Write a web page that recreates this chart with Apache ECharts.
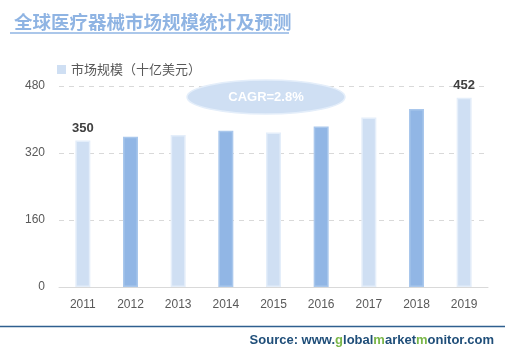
<!DOCTYPE html>
<html><head><meta charset="utf-8">
<script src="https://cdn.jsdelivr.net/npm/echarts@6/dist/echarts.min.js"></script>
<style>html,body{margin:0;padding:0;background:#fff}#c{width:518px;height:356px}</style>
</head><body><div id="c"></div>
<script>
const categories = ['2011','2012','2013','2014','2015','2016','2017','2018','2019'];
const values = [350, 359, 363, 373, 369, 383, 405, 425, 452];
const yTicks = [0, 160, 320, 480];
const seriesName = '市场规模（十亿美元）';
const titleText = '全球医疗器械市场规模统计及预测';
const cagrText = 'CAGR=2.8%';

const light = '#cfdff3', lightB = '#e4eefa';
const dark = '#91b6e5', darkB = '#a9c7ec';
const font = '"Noto Sans CJK SC", "Liberation Sans", sans-serif';

const chart = echarts.init(document.getElementById('c'));
chart.setOption({
  animation: false,
  textStyle: { fontFamily: font },
  title: {
    text: titleText, left: 9, top: 8,
    textStyle: { fontSize: 18.5, fontWeight: 'bold', color: '#8fb4e3', fontFamily: font }
  },
  legend: {
    left: 52, top: 58, itemWidth: 9, itemHeight: 9, itemGap: 11,
    icon: 'rect',
    data: [{ name: seriesName, itemStyle: { color: light } }],
    textStyle: { color: '#595959', fontSize: 13, fontFamily: font }
  },
  grid: { left: 59, right: 30, top: 86, bottom: 69 },
  xAxis: {
    type: 'category', data: categories,
    axisLine: { lineStyle: { color: '#d9d9d9', width: 1 } },
    axisTick: { show: false },
    axisLabel: { color: '#595959', fontSize: 12, margin: 12, fontFamily: 'Liberation Sans, sans-serif' }
  },
  yAxis: {
    type: 'value', min: 0, max: 480, interval: 160,
    axisLine: { show: false }, axisTick: { show: false },
    splitLine: { lineStyle: { color: '#d9d9d9', type: [5, 5] } },
    axisLabel: { color: '#595959', fontSize: 12, margin: 14, fontFamily: 'Liberation Sans, sans-serif',
      formatter: v => yTicks.includes(v) ? String(v) : '' }
  },
  series: [{
    name: seriesName, type: 'bar', barWidth: 15,
    data: values.map((v, i) => ({
      value: v,
      itemStyle: i % 2 === 0 ? { color: light, borderColor: lightB, borderWidth: 1.5 }
                             : { color: dark, borderColor: darkB, borderWidth: 1.5 },
      label: (i === 0 || i === values.length - 1) ? {
        show: true, position: 'top', distance: 6,
        color: '#404040', fontSize: 13, fontWeight: 'bold', fontFamily: 'Liberation Sans, sans-serif'
      } : { show: false }
    }))
  }],
  graphic: [
    { type: 'line', shape: { x1: 10, y1: 33, x2: 289, y2: 33 }, style: { stroke: '#8fb4e3', lineWidth: 1.5 } },
    { type: 'ellipse', shape: { cx: 266, cy: 97, rx: 79, ry: 17 },
      style: { fill: light, stroke: lightB, lineWidth: 1.5 }, z: 10 },
    { type: 'text', x: 266, y: 97, z: 11,
      style: { text: cagrText, fill: '#ffffff', fontSize: 13, fontWeight: 'bold',
        fontFamily: 'Liberation Sans, sans-serif', align: 'center', verticalAlign: 'middle' } },
    { type: 'line', shape: { x1: 0, y1: 326.5, x2: 505, y2: 326.5 }, style: { stroke: '#2f5f8f', lineWidth: 1.5 } },
    { type: 'text', right: 24, top: 334, z: 11,
      style: {
        text: '{a|Source: www.}{g|g}{a|lobal}{g|m}{a|arket}{g|m}{a|onitor.com}',
        rich: {
          a: { fill: '#1f4e79', fontSize: 13, fontWeight: 'bold', fontFamily: 'Liberation Sans, sans-serif' },
          g: { fill: '#7ab648', fontSize: 13, fontWeight: 'bold', fontFamily: 'Liberation Sans, sans-serif' }
        }
      } }
  ]
});
</script></body></html>
